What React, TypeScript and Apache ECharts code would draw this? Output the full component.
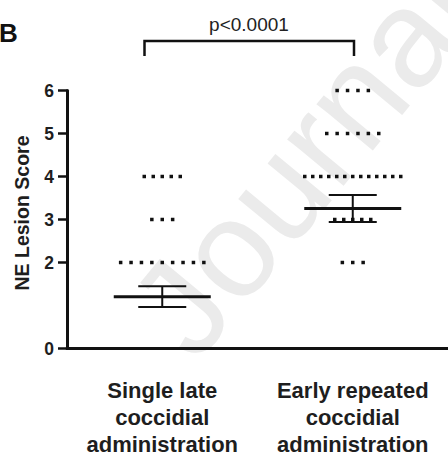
import React, { useEffect, useRef } from "react";
import * as echarts from "echarts";

// ---------- data ----------
const categories: string[] = [
  "Single late\ncoccidial\nadministration",
  "Early repeated\ncoccidial\nadministration",
];
const yTickValues: number[] = [0, 2, 3, 4, 5, 6];
// individual NE lesion scores per bird (zeros lie on the x axis and are hidden by it)
const singleLateScores: number[] = [
  4, 4, 4, 4, 4,
  3, 3, 3,
  2, 2, 2, 2, 2, 2, 2, 2, 2,
  0, 0, 0, 0, 0, 0, 0, 0, 0, 0, 0, 0, 0, 0, 0, 0, 0, 0, 0, 0, 0, 0,
];
const earlyRepeatedScores: number[] = [
  6, 6, 6, 6,
  5, 5, 5, 5, 5, 5,
  4, 4, 4, 4, 4, 4, 4, 4, 4, 4, 4, 4, 4,
  3, 3, 3, 3, 3,
  2, 2, 2,
  0, 0, 0, 0, 0, 0, 0, 0,
];
const groups: number[][] = [singleLateScores, earlyRepeatedScores];
const yAxisTitle = "NE Lesion Score";
const panelLetter = "B";
const pValueLabel = "p<0.0001";
const watermark = "Journal Pre-proof";

// ---------- helpers ----------
const FONT = "'Liberation Sans', Arial, Helvetica, sans-serif";
const INK = "#111";

function meanSem(v: number[]) {
  const n = v.length;
  const m = v.reduce((a, b) => a + b, 0) / n;
  const varS = v.reduce((a, b) => a + (b - m) * (b - m), 0) / (n - 1);
  return [m, Math.sqrt(varS) / Math.sqrt(n)];
}

function spreadPoints(gi: number, scores: number[]) {
  const counts = new Map<number, number>();
  scores.forEach((s) => counts.set(s, (counts.get(s) || 0) + 1));
  const out: any[] = [];
  counts.forEach((n, s) => {
    if (s === 0) return; // points at 0 are covered by the x axis line
    const spacing = n > 1 ? Math.min(10.4, (n > 5 ? 96 : 36) / (n - 1)) : 0;
    for (let i = 0; i < n; i++) {
      out.push({ value: [gi, s], symbolOffset: [(i - (n - 1) / 2) * spacing, 0] });
    }
  });
  return out;
}

export default function App() {
  const ref = useRef<HTMLDivElement>(null);
  useEffect(() => {
    if (!ref.current) return;
    const chart = echarts.init(ref.current, undefined, { renderer: "svg" });
    const scatterData = groups.flatMap((g, gi) => spreadPoints(gi, g));
    const statData = groups.map((g, gi) => {
      const [m, s] = meanSem(g);
      return [gi, m, s];
    });

    chart.setOption({
      animation: false,
      backgroundColor: "#fff",
      textStyle: { fontFamily: FONT },
      grid: { left: 67, right: -5, top: 90.5, bottom: 111.5, containLabel: false },
      xAxis: {
        type: "category",
        data: categories,
        boundaryGap: true,
        z: 5,
        axisLine: { lineStyle: { color: INK, width: 3 } },
        axisTick: { alignWithLabel: true, length: 11, lineStyle: { color: INK, width: 3 } },
        axisLabel: {
          interval: 0,
          margin: 28,
          fontFamily: FONT,
          fontSize: 22,
          fontWeight: "bold",
          lineHeight: 27,
          color: "#1e1e1e",
        },
        splitLine: { show: false },
      },
      yAxis: {
        type: "value",
        min: 0,
        max: 6,
        interval: 1,
        z: 5,
        axisLine: { show: true, lineStyle: { color: INK, width: 3 } },
        axisTick: { show: true, length: 9, customValues: yTickValues, lineStyle: { color: INK, width: 2.5 } },
        axisLabel: {
          customValues: yTickValues,
          margin: 13,
          fontFamily: FONT,
          fontSize: 17.5,
          fontWeight: "bold",
          color: "#1e1e1e",
        },
        splitLine: { show: false },
      },
      series: [
        {
          type: "scatter",
          symbol: "rect",
          symbolSize: 3.5,
          itemStyle: { color: INK, opacity: 1 },
          data: scatterData,
          z: 2,
        },
        {
          type: "custom",
          encode: { x: 0, y: 1 },
          data: statData,
          z: 3,
          renderItem: (params: any, api: any) => {
            const gi = api.value(0);
            const m = api.value(1);
            const s = api.value(2);
            const c = api.coord([gi, m]);
            const t = api.coord([gi, m + s]);
            const b = api.coord([gi, m - s]);
            const st = { stroke: INK, lineWidth: 2 };
            return {
              type: "group",
              children: [
                { type: "line", shape: { x1: c[0] - 48.5, y1: c[1], x2: c[0] + 48.5, y2: c[1] }, style: { stroke: INK, lineWidth: 3 } },
                { type: "line", shape: { x1: c[0], y1: t[1], x2: c[0], y2: b[1] }, style: st },
                { type: "line", shape: { x1: c[0] - 24, y1: t[1], x2: c[0] + 24, y2: t[1] }, style: st },
                { type: "line", shape: { x1: c[0] - 24, y1: b[1], x2: c[0] + 24, y2: b[1] }, style: st },
              ],
            };
          },
        },
      ],
      graphic: [
        {
          type: "text",
          z: -10,
          x: 212,
          y: 378,
          rotation: 0.88,
          silent: true,
          style: {
            text: watermark,
            fontFamily: FONT,
            fontSize: 138,
            fill: "#ebebeb",
            align: "left",
            verticalAlign: "bottom",
          },
        },
        {
          type: "text",
          x: 21.5,
          y: 213,
          rotation: Math.PI / 2,
          style: {
            text: yAxisTitle,
            fontFamily: FONT,
            fontSize: 19.5,
            fontWeight: "bold",
            fill: "#1e1e1e",
            align: "center",
            verticalAlign: "middle",
          },
        },
        {
          type: "text",
          x: -1,
          y: 32.5,
          style: {
            text: panelLetter,
            fontFamily: FONT,
            fontSize: 26,
            fontWeight: "bold",
            fill: "#111",
            align: "left",
            verticalAlign: "middle",
          },
        },
        {
          type: "text",
          x: 249,
          y: 24,
          style: {
            text: pValueLabel,
            fontFamily: FONT,
            fontSize: 19,
            fill: "#222",
            align: "center",
            verticalAlign: "middle",
          },
        },
        {
          type: "polyline",
          shape: { points: [[144.5, 56], [144.5, 41], [354, 41], [354, 56]] },
          style: { stroke: INK, lineWidth: 2.5, fill: "none" },
        },
      ],
    });
    return () => chart.dispose();
  }, []);
  return (
    <div
      ref={ref}
      style={{ position: "fixed", left: 0, top: 0, width: 448, height: 460, background: "#fff" }}
    />
  );
}
